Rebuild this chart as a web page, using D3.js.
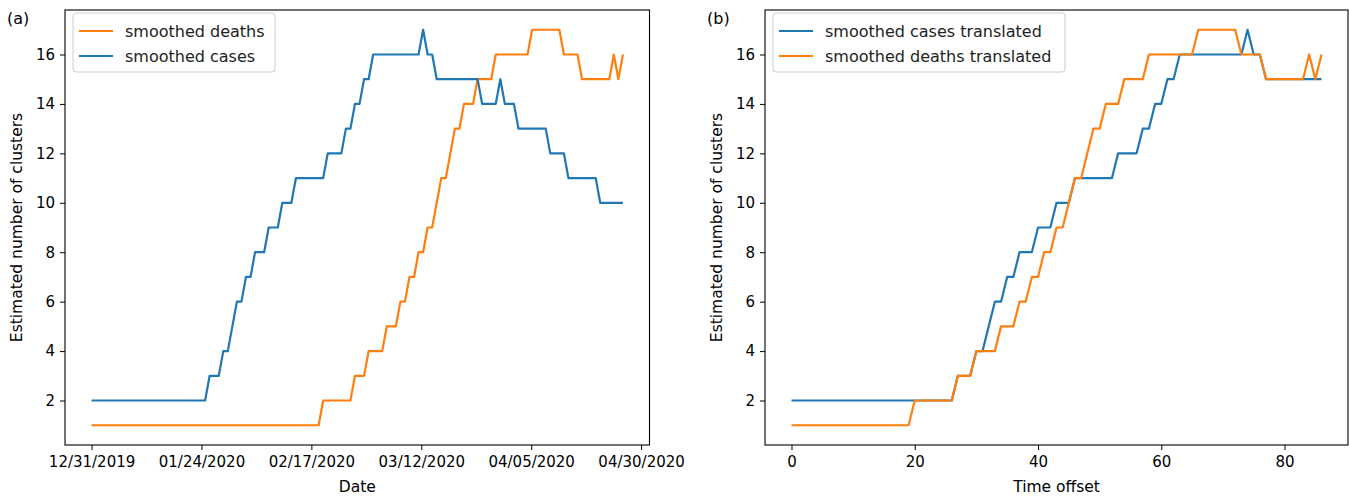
<!DOCTYPE html>
<html>
<head>
<meta charset="utf-8">
<script src="https://cdn.jsdelivr.net/npm/d3@7"></script>
<style>
  body { margin: 0; background: #fff; }
  svg { font-family: "DejaVu Sans", sans-serif; }
</style>
</head>
<body>
<svg id="chart" width="1349" height="498"></svg>
<script>
// --- data ---
// panel (a): one value per day, 12/31/2019 = day 0
var cases = [
  2,2,2,2,2,2,2,2,2,2,
  2,2,2,2,2,2,2,2,2,2,
  2,2,2,2,2,2,3,3,3,4,
  4,5,6,6,7,7,8,8,8,9,
  9,9,10,10,10,11,11,11,11,11,
  11,11,12,12,12,12,13,13,14,14,
  15,15,16,16,16,16,16,16,16,16,
  16,16,16,17,16,16,15,15,15,15,
  15,15,15,15,15,15,14,14,14,14,
  15,14,14,14,13,13,13,13,13,13,
  13,12,12,12,12,11,11,11,11,11,
  11,11,10,10,10,10,10,10
];
var deaths = [
  1,1,1,1,1,1,1,1,1,1,
  1,1,1,1,1,1,1,1,1,1,
  1,1,1,1,1,1,1,1,1,1,
  1,1,1,1,1,1,1,1,1,1,
  1,1,1,1,1,1,1,1,1,1,
  1,2,2,2,2,2,2,2,3,3,
  3,4,4,4,4,5,5,5,6,6,
  7,7,8,8,9,9,10,11,11,12,
  13,13,14,14,14,15,15,15,15,16,
  16,16,16,16,16,16,16,17,17,17,
  17,17,17,17,16,16,16,16,15,15,
  15,15,15,15,15,16,15,16
];
var dateTickDays = [0, 24.2, 48.4, 72.6, 96.8, 121];
var dateTickLabels = ["12/31/2019", "01/24/2020", "02/17/2020", "03/12/2020", "04/05/2020", "04/30/2020"];

// panel (b): index = time offset
var casesTranslated = [
  2,2,2,2,2,2,2,2,2,2,
  2,2,2,2,2,2,2,2,2,2,
  2,2,2,2,2,2,2,3,3,3,
  4,4,5,6,6,7,7,8,8,8,
  9,9,9,10,10,10,11,11,11,11,
  11,11,11,12,12,12,12,13,13,14,
  14,15,15,16,16,16,16,16,16,16,
  16,16,16,16,17,16,16,15,15,15,
  15,15,15,15,15,15,15
];
var deathsTranslated = [
  1,1,1,1,1,1,1,1,1,1,
  1,1,1,1,1,1,1,1,1,1,
  2,2,2,2,2,2,2,3,3,3,
  4,4,4,4,5,5,5,6,6,7,
  7,8,8,9,9,10,11,11,12,13,
  13,14,14,14,15,15,15,15,16,16,
  16,16,16,16,16,16,17,17,17,17,
  17,17,17,16,16,16,16,15,15,15,
  15,15,15,15,16,15,16
];
var offsetTicks = [0, 20, 40, 60, 80];
var yTicks = [2, 4, 6, 8, 10, 12, 14, 16];

var blue = "#1f77b4", orange = "#ff7f0e";
var svg = d3.select("#chart");
var plotTop = 10, plotBottom = 445;

var y = d3.scaleLinear().domain([0.2, 17.8]).range([plotBottom, plotTop]);

function drawPanel(opts) {
  var g = svg.append("g");
  var x = opts.x;
  var left = x.range()[0], right = x.range()[1];

  // y axis
  var yAxis = g.append("g")
    .attr("transform", "translate(" + left + ",0)")
    .call(d3.axisLeft(y).tickValues(yTicks).tickSize(5).tickPadding(5).tickFormat(d3.format("d")));
  yAxis.select(".domain").remove();

  // x axis
  var xAxis = g.append("g")
    .attr("transform", "translate(0," + plotBottom + ")")
    .call(d3.axisBottom(x).tickValues(opts.tickValues).tickSize(5).tickPadding(6)
      .tickFormat(function (d, i) { return opts.tickLabels ? opts.tickLabels[i] : d; }));
  xAxis.select(".domain").remove();

  g.selectAll(".tick line").attr("stroke", "#000").attr("stroke-width", 1);
  g.selectAll(".tick text").attr("fill", "#000").style("font-size", "15px")
    .style("font-family", "DejaVu Sans");

  // lines
  var line = d3.line().x(function (d, i) { return x(i); }).y(function (d) { return y(d); });
  opts.series.forEach(function (s) {
    g.append("path")
      .datum(s.values)
      .attr("fill", "none")
      .attr("stroke", s.color)
      .attr("stroke-width", 2.2)
      .attr("stroke-linejoin", "round")
      .attr("d", line);
  });

  // frame
  g.append("rect")
    .attr("x", left).attr("y", plotTop)
    .attr("width", right - left).attr("height", plotBottom - plotTop)
    .attr("fill", "none").attr("stroke", "#000").attr("stroke-width", 1.1);

  // legend
  var lg = g.append("g").attr("transform", "translate(" + (left + 8) + "," + (plotTop + 3) + ")");
  lg.append("rect")
    .attr("width", opts.legendWidth).attr("height", 59).attr("rx", 3)
    .attr("fill", "#fff").attr("fill-opacity", 0.8)
    .attr("stroke", "#cccccc").attr("stroke-width", 1);
  opts.legend.forEach(function (s, i) {
    var yy = 18 + i * 25;
    lg.append("line")
      .attr("x1", 6).attr("x2", 40).attr("y1", yy).attr("y2", yy)
      .attr("stroke", s.color).attr("stroke-width", 2.2);
    lg.append("text")
      .attr("x", 52).attr("y", yy).attr("dy", "0.35em")
      .style("font-size", "16px").attr("fill", "#222")
      .text(s.label);
  });

  // labels
  g.append("text")
    .attr("x", (left + right) / 2).attr("y", 492)
    .attr("text-anchor", "middle").style("font-size", "15.5px")
    .text(opts.xLabel);
  g.append("text")
    .attr("transform", "translate(" + (left - 43) + "," + ((plotTop + plotBottom) / 2) + ") rotate(-90)")
    .attr("text-anchor", "middle").style("font-size", "15.5px")
    .text("Estimated number of clusters");
  g.append("text")
    .attr("x", opts.tagX).attr("y", 24)
    .style("font-size", "16px")
    .text(opts.tag);
}

drawPanel({
  x: d3.scaleLinear().domain([-5.85, 122.85]).range([65, 649.5]),
  tickValues: dateTickDays,
  tickLabels: dateTickLabels,
  series: [{ values: deaths, color: orange }, { values: cases, color: blue }],
  legend: [{ label: "smoothed deaths", color: orange }, { label: "smoothed cases", color: blue }],
  legendWidth: 202,
  xLabel: "Date",
  tag: "(a)",
  tagX: 7
});

drawPanel({
  x: d3.scaleLinear().domain([-4.3, 90.3]).range([765, 1348]),
  tickValues: offsetTicks,
  tickLabels: null,
  series: [{ values: casesTranslated, color: blue }, { values: deathsTranslated, color: orange }],
  legend: [{ label: "smoothed cases translated", color: blue }, { label: "smoothed deaths translated", color: orange }],
  legendWidth: 292,
  xLabel: "Time offset",
  tag: "(b)",
  tagX: 707
});
</script>
</body>
</html>
